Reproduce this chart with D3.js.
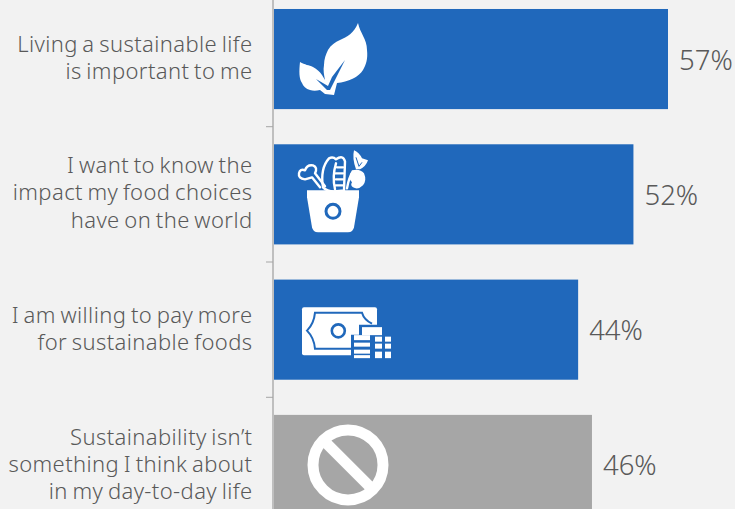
<!DOCTYPE html>
<html>
<head>
<meta charset="utf-8">
<script src="https://cdn.jsdelivr.net/npm/d3@7/dist/d3.min.js"></script>
<style>
  html, body { margin: 0; padding: 0; background: #f2f2f2; overflow: hidden; }
  svg { display: block; }
  text { font-family: "Noto Sans", "Open Sans", sans-serif; fill: #595959; }
</style>
</head>
<body>
<svg id="chart" width="735" height="509"></svg>
<script>
const statements = [
  ["Living a sustainable life", "is important to me"],
  ["I want to know the", "impact my food choices", "have on the world"],
  ["I am willing to pay more", "for sustainable foods"],
  ["Sustainability isn’t", "something I think about", "in my day-to-day life"]
];
const shares = [57, 52, 44, 46];
const barColors = ["#2068bb", "#2068bb", "#2068bb", "#a6a6a6"];
const iconNames = ["leaf", "food", "money", "none"];

const svg = d3.select("#chart");
const x = d3.scaleLinear().domain([0, 57]).range([274, 668]);
const y = d3.scaleBand().domain(d3.range(shares.length)).range([-8.6, 532.6]).paddingInner(0.26).paddingOuter(0.13);

// Vertical axis with ticks on the band boundaries
const boundaries = d3.range(shares.length + 1).map(i => -8.6 + i * y.step());
svg.append("line").attr("x1", 273).attr("x2", 273).attr("y1", 0).attr("y2", 509)
  .attr("stroke", "#bfbfbf").attr("stroke-width", 2);
svg.selectAll(".tick").data(boundaries).join("line").attr("class", "tick")
  .attr("x1", 266).attr("x2", 273).attr("y1", d => d).attr("y2", d => d)
  .attr("stroke", "#a6a6a6").attr("stroke-width", 1);

// Bars
svg.selectAll(".bar").data(shares).join("rect").attr("class", "bar")
  .attr("x", x(0)).attr("y", (d, i) => y(i))
  .attr("width", d => x(d) - x(0)).attr("height", y.bandwidth())
  .attr("fill", (d, i) => barColors[i]);

// Value labels
svg.selectAll(".value").data(shares).join("text").attr("class", "value")
  .attr("x", d => x(d) + 11).attr("y", (d, i) => y(i) + y.bandwidth() / 2 + 10.5)
  .attr("font-size", 27.5).attr("font-weight", 300).text(d => d + "%");

// Category labels, right aligned against the axis
const lineHeight = 27.2;
svg.selectAll(".category").data(statements).join("text").attr("class", "category")
  .attr("text-anchor", "end").attr("font-size", 22).attr("font-weight", 300)
  .attr("letter-spacing", 0.4).attr("word-spacing", -1.5)
  .each(function (lines, i) {
    const mid = y(i) + y.bandwidth() / 2;
    const lift = lines.length === 3 ? (i === 1 ? 1.5 : 0.5) : 1;
    d3.select(this).selectAll("tspan").data(lines).join("tspan")
      .attr("x", 252.5)
      .attr("y", (l, k) => mid + 7.5 - lift + (k - (lines.length - 1) / 2) * lineHeight)
      .text(l => l);
  });

// Icons, drawn in local coordinates from each bar's left edge and centre line
const blue = barColors[0], white = "#fff";
const icons = {
  leaf(g) {
    g.append("path").attr("fill", white)
      .attr("d", "M84,-36 C86,-26 93,-20 93,-9 C94,0 92,6 89,11 C85,18 74,23 63,24 L60,36 L51,35 L46,31 C42,32 39,32 36,31 C32,30 29,27 28,24 C25,20 25,12 26,3 C31,6 35,6 39,8 C43,10 46,13 48,16 L51,21 C50,16 49,11 50,6 C50,0 52,-5 54,-9 C57,-14 61,-17 66,-19 C73,-22 80,-26 84,-36 Z");
    g.append("path").attr("fill", blue)
      .attr("d", "M71,1 L58,18 L54,27 L42,20 L53,31 L56,31 Z");
  },
  food(g) {
    g.append("path").attr("fill", white)
      .attr("d", "M33,-4 L85,-4 L85,3 L80,33 Q79,38 74,38 L44,38 Q39,38 38,33 L33,3 Z");
    g.append("circle").attr("cx", 59).attr("cy", 17).attr("r", 7)
      .attr("fill", white).attr("stroke", blue).attr("stroke-width", 3);
    const produce = g.append("g").attr("fill", "none").attr("stroke", white).attr("stroke-width", 2.4)
      .attr("stroke-linecap", "round").attr("stroke-linejoin", "round");
    // Drumstick
    produce.append("path").attr("d", "M46,-7 L38,-17 L31,-15 Q24,-16 25,-21 Q26,-26 31,-24 Q33,-30 39,-29 Q44,-27 41,-21 L51,-8");
    // Loaf and its ribbed side
    produce.append("path").attr("d", "M49,-7 Q46,-26 55,-36 Q59,-38 62,-35 Q69,-40 71,-33 L70,-4 L60,-3 Q53,-3 49,-7");
    produce.append("path").attr("d", "M62,-31 Q58,-18 61,-5 M63,-27 L69,-27 M62,-21 L69,-21 M62,-15 L69,-15 M62,-9 L69,-9");
    // Carrot with leafy top
    produce.append("path").attr("d", "M73,-6 Q75,-18 79,-22");
    g.append("path").attr("fill", white)
      .attr("d", "M78,-24 Q86,-26 90,-21 Q93,-14 89,-9 Q84,-4 79,-7 Q76,-9 78,-12 Q73,-17 78,-24 Z");
    g.append("path").attr("fill", white)
      .attr("d", "M82,-25 Q78,-36 80,-44 Q85,-42 88,-36 L94,-34 Q92,-28 86,-25 Z");
    g.append("path").attr("fill", "none").attr("stroke", blue).attr("stroke-width", 1)
      .attr("d", "M82,-37 L85,-28 M88,-32 L85,-28");
  },
  money(g) {
    g.append("rect").attr("x", 28).attr("y", -22.5).attr("width", 75).attr("height", 48).attr("rx", 2).attr("fill", white);
    g.append("path").attr("fill", "none").attr("stroke", blue).attr("stroke-width", 2)
      .attr("d", "M78,19 L41,19 Q40,8 33,1 Q40,-6 41,-17 L88,-17 Q90,-10 98,-6");
    g.append("circle").attr("cx", 64.3).attr("cy", 1.2).attr("r", 6.5).attr("fill", white).attr("stroke", blue).attr("stroke-width", 2.6);
    g.append("path").attr("fill", blue).attr("d", "M77,28.5 L77,5 L85,5 L85,-5 L111,-5 L111,3 L118,3 L118,28.5 Z");
    const cells = [
      [88, -2.5, 20, 8], [80, 5.5, 16, 5], [80, 13, 16, 4], [80, 20, 16, 4], [80, 25.5, 16, 3],
      [101, 7, 7, 5], [101, 14, 7, 5], [101, 22, 7, 6.5],
      [111, 7, 6, 5], [111, 14, 6, 5], [111, 22, 6, 6.5]
    ];
    g.selectAll(".coin").data(cells).join("rect").attr("class", "coin").attr("fill", white)
      .attr("x", c => c[0]).attr("y", c => c[1]).attr("width", c => c[2]).attr("height", c => c[3]);
  },
  none(g) {
    g.append("circle").attr("cx", 74).attr("cy", 0).attr("r", 35).attr("fill", "none").attr("stroke", white).attr("stroke-width", 11);
    g.append("line").attr("x1", 50).attr("y1", -24).attr("x2", 98).attr("y2", 24).attr("stroke", white).attr("stroke-width", 11);
  }
};
iconNames.forEach((name, i) => {
  const g = svg.append("g").attr("transform", `translate(${x(0)},${y(i) + y.bandwidth() / 2})`);
  icons[name](g);
});
</script>
</body>
</html>
